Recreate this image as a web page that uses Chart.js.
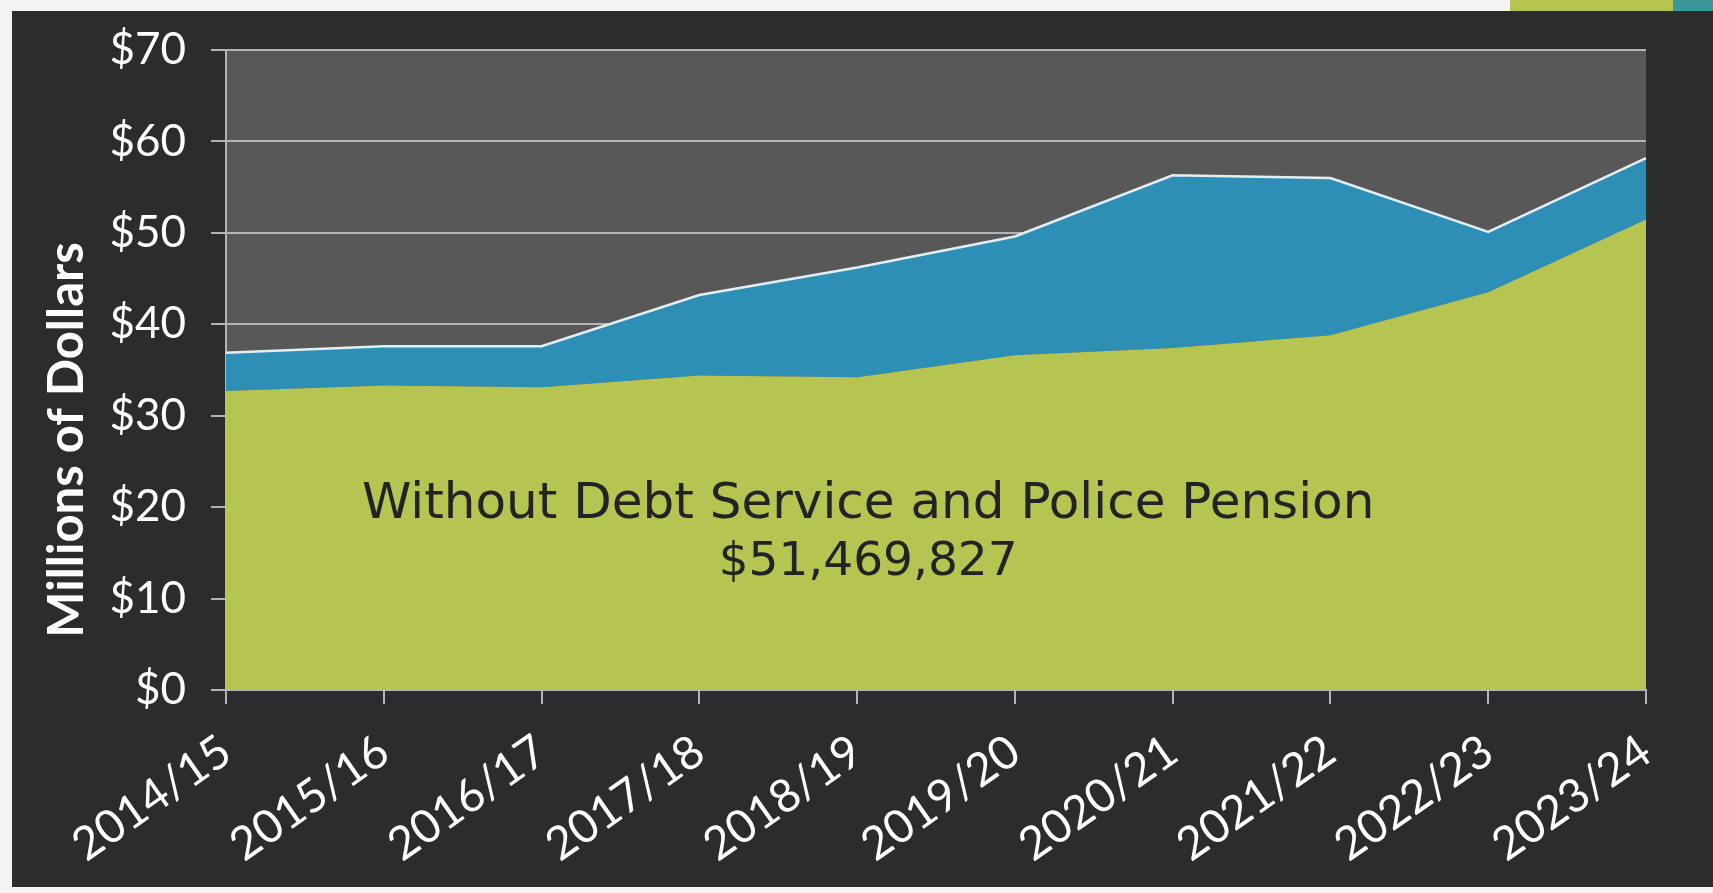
<!DOCTYPE html>
<html lang="en">
<head>
<meta charset="UTF-8">
<title>General Fund Expenditures</title>
<script src="https://cdn.jsdelivr.net/npm/chart.js"></script>
<style>
  html, body {
    margin: 0;
    padding: 0;
    width: 1713px;
    height: 893px;
    overflow: hidden;
    background: #f3f3f1;
  }
  .panel {
    position: absolute;
    left: 12px;
    top: 11px;
    width: 1701px;
    height: 876px;
    background: #2b2c2e;
  }
  .accent-green {
    position: absolute; left: 1510px; top: 0; width: 165px; height: 13px;
    background: #b5c54f;
  }
  .accent-teal {
    position: absolute; left: 1673px; top: 0; width: 40px; height: 13px;
    background: #3a979a;
  }
  canvas { display: block; }
</style>
</head>
<body>
<div class="accent-green"></div>
<div class="accent-teal"></div>
<div class="panel">
  <canvas id="chart" width="1701" height="876"></canvas>
</div>

<script>
// fiscal years
const years = ['2014/15', '2015/16', '2016/17', '2017/18', '2018/19',
               '2019/20', '2020/21', '2021/22', '2022/23', '2023/24'];

// millions of dollars, without debt service and police pension
const baseSpending = [32.7, 33.3, 33.1, 34.4, 34.2, 36.6, 37.4, 38.8, 43.5, 51.469827];

// millions of dollars, debt service and police pension (stacked on top)
const debtAndPension = [4.2, 4.3, 4.5, 8.8, 12.0, 13.0, 18.9, 17.2, 6.6, 6.7];

const yTicks = [0, 10, 20, 30, 40, 50, 60, 70];

const axisTitle = 'Millions of Dollars';
const noteTitle = 'Without Debt Service and Police Pension';

const labelFont = "Lato, 'Open Sans', sans-serif";

// grey plotting area behind the areas
const plotBackground = {
    id: 'plotBackground',
    beforeDraw(chart) {
        const { ctx, chartArea: a } = chart;
        ctx.save();
        ctx.fillStyle = '#585858';
        ctx.fillRect(a.left, a.top, a.right - a.left, a.bottom - a.top);
        ctx.restore();
    }
};

// vertical axis title, set a little lower than centre like the slide
const sideTitle = {
    id: 'sideTitle',
    afterDraw(chart) {
        const { ctx, chartArea: a } = chart;
        ctx.save();
        ctx.translate(a.left - 143, a.top + 390);
        ctx.rotate(-Math.PI / 2);
        ctx.fillStyle = '#ffffff';
        ctx.font = 'bold 49px ' + labelFont;
        ctx.textAlign = 'center';
        ctx.textBaseline = 'alphabetic';
        ctx.fillText(axisTitle, 0, 0);
        ctx.restore();
    }
};

// note written inside the green area
const areaNote = {
    id: 'areaNote',
    afterDatasetsDraw(chart) {
        const { ctx, scales: { x, y } } = chart;
        const last = baseSpending[baseSpending.length - 1];
        const amount = '$' + Math.round(last * 1e6).toLocaleString('en-US');
        const cx = x.getPixelForValue(4.07);
        ctx.save();
        ctx.fillStyle = '#232323';
        ctx.textAlign = 'center';
        ctx.textBaseline = 'alphabetic';
        ctx.font = "50px 'DejaVu Sans', sans-serif";
        ctx.fillText(noteTitle, cx, y.getPixelForValue(18.8));
        ctx.font = "47px 'DejaVu Sans', sans-serif";
        ctx.fillText(amount, cx, y.getPixelForValue(12.6));
        ctx.restore();
    }
};

new Chart(document.getElementById('chart'), {
    type: 'line',
    data: {
        labels: years,
        datasets: [
            {
                label: 'Without Debt Service and Police Pension',
                data: baseSpending,
                backgroundColor: '#b6c552',
                borderWidth: 0,
                fill: 'origin',
                pointRadius: 0
            },
            {
                label: 'Debt Service and Police Pension',
                data: debtAndPension,
                backgroundColor: '#2d8fb6',
                borderColor: '#e3eef3',
                borderWidth: 2.5,
                fill: '-1',
                pointRadius: 0
            }
        ]
    },
    options: {
        responsive: false,
        animation: false,
        events: [],
        layout: { padding: { top: 39, right: 67, left: 0, bottom: 0 } },
        elements: { line: { tension: 0 } },
        plugins: {
            legend: { display: false },
            tooltip: { enabled: false }
        },
        scales: {
            x: {
                offset: false,
                afterFit(scale) {
                    scale.height = 197;
                    scale.paddingLeft = 0;
                    scale.paddingRight = 0;
                },
                grid: {
                    drawOnChartArea: false,
                    drawTicks: true,
                    tickLength: 14,
                    color: '#b4b4b4',
                    lineWidth: 2
                },
                border: { color: '#b4b4b4', width: 2 },
                ticks: {
                    autoSkip: false,
                    minRotation: 35,
                    maxRotation: 35,
                    padding: 20,
                    color: '#ffffff',
                    font: { family: labelFont, size: 46 }
                }
            },
            y: {
                stacked: true,
                min: 0,
                max: 70,
                afterFit(scale) {
                    scale.width = 214;
                    scale.paddingTop = 0;
                    scale.paddingBottom = 0;
                },
                afterBuildTicks(scale) {
                    scale.ticks = yTicks.map(v => ({ value: v }));
                },
                grid: {
                    color: '#b4b4b4',
                    lineWidth: 2,
                    tickLength: 15
                },
                border: { color: '#b4b4b4', width: 2 },
                ticks: {
                    padding: 25,
                    color: '#ffffff',
                    font: { family: labelFont, size: 44 },
                    callback: v => '$' + v
                }
            }
        }
    },
    plugins: [plotBackground, sideTitle, areaNote]
});
</script>
</body>
</html>
